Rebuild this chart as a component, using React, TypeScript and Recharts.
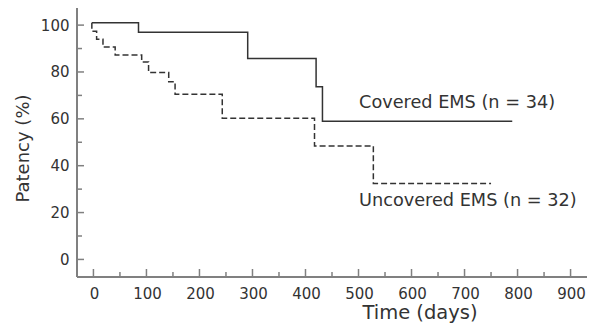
import { LineChart, Line, XAxis, YAxis, ReferenceDot } from 'recharts';

// Kaplan-Meier patency curves
const coveredDays = [-3, 85, 291, 420, 432, 790];
const coveredPatency = [101, 97, 85.8, 73.7, 59, 59];

const uncoveredDays = [-3, -3, 6, 18, 41, 91, 104, 142, 154, 243, 417, 528, 750];
const uncoveredPatency = [101, 97.4, 94, 90.7, 87.2, 84.3, 79.8, 75.8, 70.5, 60.2, 48.4, 32.4, 32.4];

const xTicks = [0, 50, 100, 150, 200, 250, 300, 350, 400, 450, 500, 550, 600, 650, 700, 750, 800, 850, 900];
const yTicks = [0, 10, 20, 30, 40, 50, 60, 70, 80, 90, 100];

const coveredData = coveredDays.map((x, i) => ({ x, y: coveredPatency[i] }));
const uncoveredData = uncoveredDays.map((x, i) => ({ x, y: uncoveredPatency[i] }));

const FONT = '"DejaVu Sans", sans-serif';
const AXIS = '#808080';
const INK = '#333';

function XTick(props: any) {
  const { x, y, payload } = props;
  const major = payload.value % 100 === 0;
  return (
    <g>
      <line x1={x} x2={x} y1={y} y2={y - (major ? 8 : 5)} stroke={AXIS} strokeWidth={1.5} />
      {major && (
        <text x={x + 1} y={y + 21.5} textAnchor="middle" fontSize={15} fontFamily={FONT} fill={INK}>
          {payload.value}
        </text>
      )}
    </g>
  );
}

function YTick(props: any) {
  const { x, y, payload } = props;
  const major = payload.value % 20 === 0;
  return (
    <g>
      <line x1={x} x2={x + (major ? 7 : 5)} y1={y} y2={y} stroke={AXIS} strokeWidth={1.5} />
      {major && (
        <text x={x - 7.5} y={y + 5.5} textAnchor="end" fontSize={15} fontFamily={FONT} fill={INK}>
          {payload.value}
        </text>
      )}
    </g>
  );
}

export default function App() {
  return (
    <div style={{ position: 'absolute', left: 0, top: 0, background: '#fff' }}>
      <LineChart width={591} height={331} margin={{ top: 8, right: 4, bottom: 0, left: 0 }}>
        <XAxis
          type="number"
          dataKey="x"
          domain={[-31, 931]}
          ticks={xTicks}
          interval={0}
          allowDataOverflow
          height={54}
          tickSize={0}
          tickMargin={0}
          tick={<XTick />}
          axisLine={{ stroke: AXIS, strokeWidth: 2 }}
          tickLine={false}
          label={{
            value: 'Time (days)',
            position: 'insideBottom',
            offset: 12,
            dx: 88,
            fontSize: 19.5,
            fontFamily: FONT,
            fill: INK,
          }}
        />
        <YAxis
          type="number"
          dataKey="y"
          domain={[-7.5, 107.3]}
          ticks={yTicks}
          interval={0}
          allowDataOverflow
          width={77}
          tickSize={0}
          tickMargin={0}
          tick={<YTick />}
          axisLine={{ stroke: AXIS, strokeWidth: 2 }}
          tickLine={false}
          label={{
            value: 'Patency (%)',
            angle: -90,
            position: 'insideLeft',
            offset: 23,
            dy: 6,
            fontSize: 18,
            fontFamily: FONT,
            fill: INK,
            style: { textAnchor: 'middle' },
          }}
        />
        <Line
          data={coveredData}
          dataKey="y"
          type="stepAfter"
          stroke={INK}
          strokeWidth={1.5}
          dot={false}
          isAnimationActive={false}
        />
        <Line
          data={uncoveredData}
          dataKey="y"
          type="stepAfter"
          stroke={INK}
          strokeWidth={1.5}
          strokeDasharray="6 3"
          dot={false}
          isAnimationActive={false}
        />
        <ReferenceDot
          x={501}
          y={67.3}
          r={0}
          fill="none"
          stroke="none"
          label={{ value: 'Covered EMS (n = 34)', position: 'right', offset: 0, fontSize: 17.7, fontFamily: FONT, fill: INK }}
        />
        <ReferenceDot
          x={501}
          y={25.3}
          r={0}
          fill="none"
          stroke="none"
          label={{ value: 'Uncovered EMS (n = 32)', position: 'right', offset: 0, fontSize: 17.7, fontFamily: FONT, fill: INK }}
        />
      </LineChart>
    </div>
  );
}
